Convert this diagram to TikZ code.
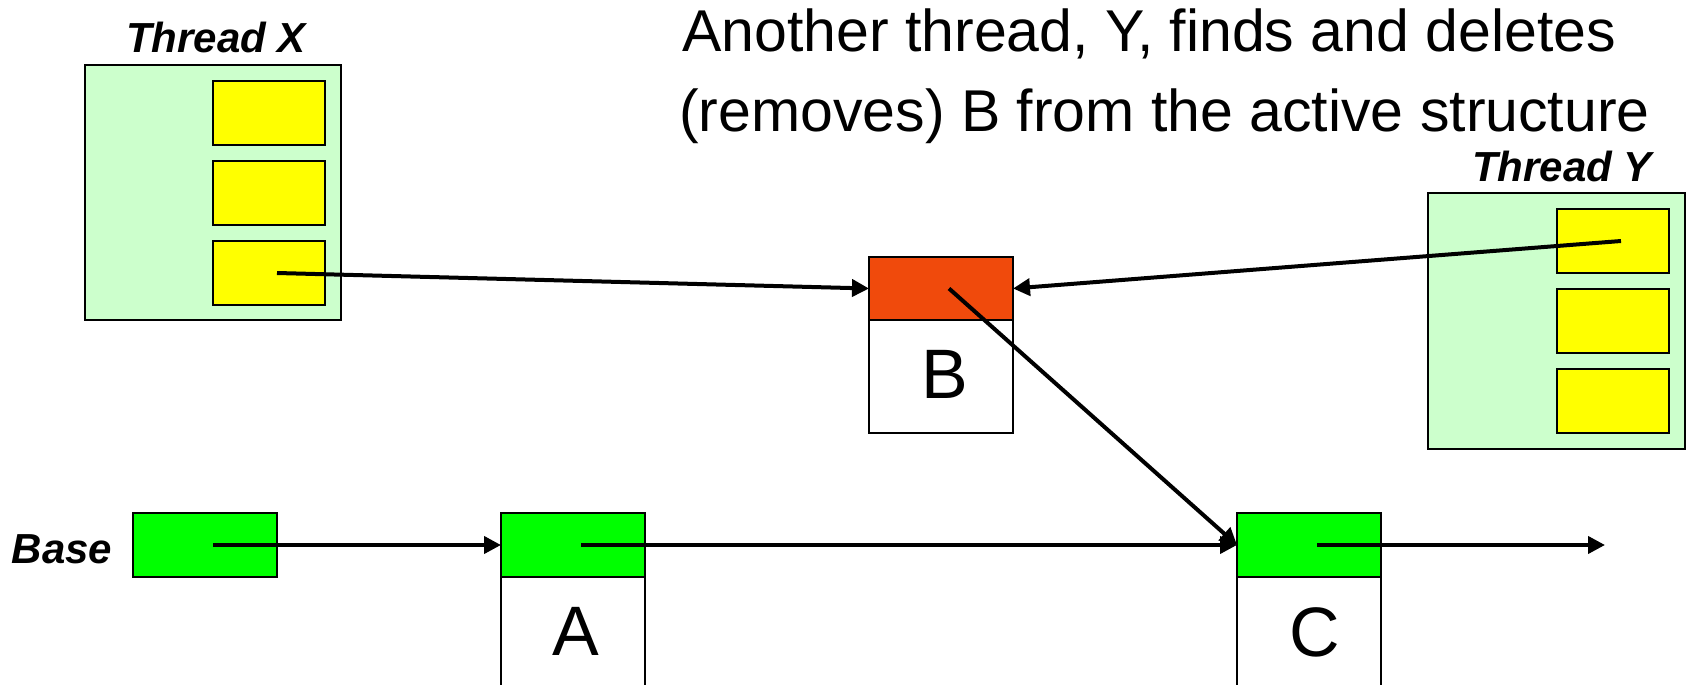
\documentclass[tikz,border=0pt]{standalone}
\usepackage{fontspec}
\setmainfont{Liberation Sans}
\usetikzlibrary{arrows.meta}
\definecolor{thrbg}{RGB}{204,255,204}
\definecolor{slot}{RGB}{255,255,0}
\definecolor{ptr}{RGB}{0,255,0}
\definecolor{dead}{RGB}{240,74,12}
\tikzset{
  box/.style={draw=black, line width=1.8pt, inner sep=0pt, outer sep=0pt, rectangle},
  thr/.style={box, fill=thrbg, minimum width=256pt, minimum height=255pt},
  slotbox/.style={box, fill=slot, minimum width=112pt, minimum height=64pt},
  ptrbox/.style={box, fill=ptr, minimum width=144pt, minimum height=64pt},
  deadbox/.style={box, fill=dead, minimum width=144pt, minimum height=63pt},
  databox/.style={box, fill=white, minimum width=144pt},
  lbl/.style={font=\fontsize{42}{44}\selectfont\bfseries\itshape, inner sep=0pt, anchor=base},
  big/.style={font=\fontsize{70}{72}\selectfont, inner sep=0pt, anchor=base},
  title/.style={font=\fontsize{59}{61}\selectfont, inner sep=0pt, anchor=base west},
  link/.style={line width=4pt, -{Triangle[length=17pt,width=17pt]}}
}
\begin{document}
\begin{tikzpicture}[x=1pt,y=-1pt]
\useasboundingbox (0,0) rectangle (1690,685);
\clip (0,0) rectangle (1690,685);
% title
\node[title] (t1) at (682,52) {Another thread, Y, finds and deletes};
\node[title] (t2) at (679,131) {(removes) B from the active structure};
% thread X
\node[thr] (tx) at (213,192.5) {};
\node[lbl] (txl) at (216,53) {Thread X};
\node[slotbox] (x1) at (269,113) {};
\node[slotbox] (x2) at (269,193) {};
\node[slotbox] (x3) at (269,273) {};
% thread Y
\node[thr, minimum width=257pt, minimum height=256pt] (ty) at (1556.5,321) {};
\node[lbl] (tyl) at (1562,181) {Thread Y};
\node[slotbox] (y1) at (1613,241) {};
\node[slotbox] (y2) at (1613,321) {};
\node[slotbox] (y3) at (1613,401) {};
% B
\node[databox, minimum height=113pt] (bd) at (941,376.5) {};
\node[deadbox] (bp) at (941,288.5) {};
\node[big] (bl) at (945,398) {B};
% base
\node[lbl] (basel) at (62,563) {Base};
\node[ptrbox] (base) at (205,545) {};
% A
\node[databox, minimum height=140pt] (ad) at (573,647) {};
\node[ptrbox] (ap) at (573,545) {};
\node[big] (al) at (576,655) {A};
% C
\node[databox, minimum height=140pt] (cd) at (1309,647) {};
\node[ptrbox] (cp) at (1309,545) {};
\node[big] (cl) at (1315,656) {C};
\coordinate (cend) at (1605,545);
% links
\draw[link] ([xshift=8pt]base.center) -- (ap.west);
\draw[link] ([xshift=8pt]ap.center) -- (cp.west);
\draw[link] ([xshift=8pt]cp.center) -- (cend);
\draw[link] ([xshift=8pt]x3.center) -- (bp.west);
\draw[link] ([xshift=8pt]y1.center) -- (bp.east);
\draw[link] ([xshift=8pt]bp.center) -- (cp.west);
\end{tikzpicture}
\end{document}
